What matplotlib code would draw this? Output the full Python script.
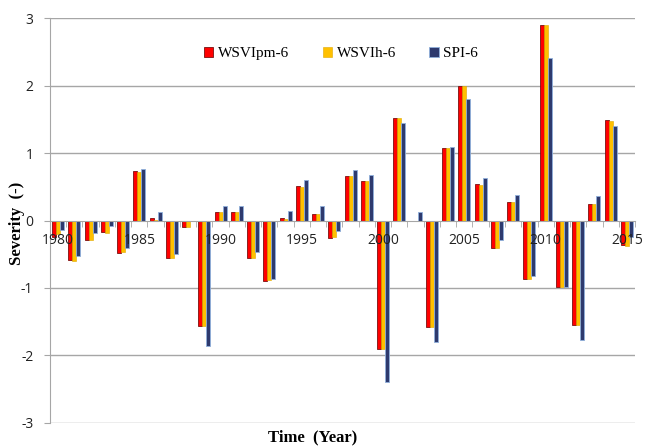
import numpy as np
import matplotlib.pyplot as plt
from matplotlib.ticker import FixedLocator, NullFormatter

plt.rcParams["axes.unicode_minus"] = False

# Anos y valores de severidad
years = list(range(1980, 2016))
wsvi_pm = [-0.24, -0.58, -0.29, -0.17, -0.48, 0.73, 0.03, -0.56, -0.10, -1.56,
           0.12, 0.12, -0.56, -0.89, 0.03, 0.51, 0.10, -0.26, 0.66, 0.59,
           -1.91, 1.52, 0.0, -1.58, 1.08, 2.00, 0.54, -0.40, 0.27, -0.87,
           2.89, -0.99, -1.55, 0.25, 1.49, -0.36]
wsvi_h = [-0.20, -0.60, -0.29, -0.18, -0.47, 0.72, 0.01, -0.56, -0.10, -1.56,
          0.12, 0.12, -0.56, -0.88, 0.02, 0.50, 0.10, -0.25, 0.66, 0.58,
          -1.90, 1.52, 0.0, -1.58, 1.08, 2.00, 0.53, -0.40, 0.27, -0.86,
          2.89, -0.99, -1.55, 0.25, 1.48, -0.38]
spi = [-0.14, -0.53, -0.18, -0.08, -0.41, 0.77, 0.13, -0.50, -0.01, -1.86,
       0.22, 0.22, -0.47, -0.86, 0.14, 0.60, 0.22, -0.15, 0.75, 0.67,
       -2.40, 1.45, 0.12, -1.80, 1.09, 1.80, 0.63, -0.29, 0.38, -0.82,
       2.41, -0.99, -1.77, 0.36, 1.40, -0.25]
labels = ["WSVIpm-6", "WSVIh-6", "SPI-6"]

x = np.arange(len(years))
w = 0.25

fig = plt.figure(figsize=(6.45, 4.46), dpi=100)
ax = fig.add_axes([0.0775, 0.0516, 0.907, 0.908])

ax.bar(x - w, wsvi_pm, w, color="#ff0000", edgecolor="#7a1010", linewidth=0.6, label=labels[0], zorder=2)
ax.bar(x, wsvi_h, w, color="#ffc000", edgecolor="#e0a800", linewidth=0.4, label=labels[1], zorder=2)
ax.bar(x + w, spi, w, color="#2e3a6e", edgecolor="#8fb0dc", linewidth=0.6, label=labels[2], zorder=2)

ax.set_xlim(-0.5, len(years) - 0.5)
ax.set_ylim(-3, 3)
ax.set_yticks(range(-3, 4))
for yv in range(-3, 4):
    if yv != 0:
        ax.axhline(yv, color="#a6a6a6", linewidth=1.0, zorder=1)
ax.set_axisbelow(False)

# eje x en cero, etiquetas cada 5 anos
ax.spines["bottom"].set_position(("data", 0))
ax.spines["bottom"].set_color("#a6a6a6")
ax.spines["left"].set_color("#a6a6a6")
ax.spines["top"].set_visible(False)
ax.spines["right"].set_visible(False)
ax.set_xticks([i for i, yr in enumerate(years) if yr % 5 == 0])
ax.set_xticklabels([str(yr) for yr in years if yr % 5 == 0])
ax.xaxis.set_minor_locator(FixedLocator(np.arange(-0.5, len(years), 1.0)))
ax.xaxis.set_minor_formatter(NullFormatter())
ax.tick_params(axis="x", which="major", length=0, pad=9, labelsize=10, labelcolor="#222222")
ax.tick_params(axis="x", which="minor", length=4, color="#a6a6a6", direction="out")
ax.tick_params(axis="y", length=4, color="#a6a6a6", labelsize=10, labelcolor="#222222", pad=8)
for t in ax.get_xticklabels() + ax.get_yticklabels():
    t.set_family("Open Sans")

fig.text(0.026, 0.5, "Severity  (-)", rotation=90, va="center", ha="center",
         family="Liberation Serif", fontweight="bold", fontsize=12)
fig.text(0.485, 0.02, "Time  (Year)", va="center", ha="center",
         family="Liberation Serif", fontweight="bold", fontsize=12)

ax.legend(loc="upper left", bbox_to_anchor=(0.24, 0.962), ncol=3, frameon=False,
          prop={"family": "Liberation Serif", "size": 11}, handlelength=0.6,
          handleheight=0.6, handletextpad=0.3, columnspacing=2.2)

fig.savefig("out.png", dpi=100)
